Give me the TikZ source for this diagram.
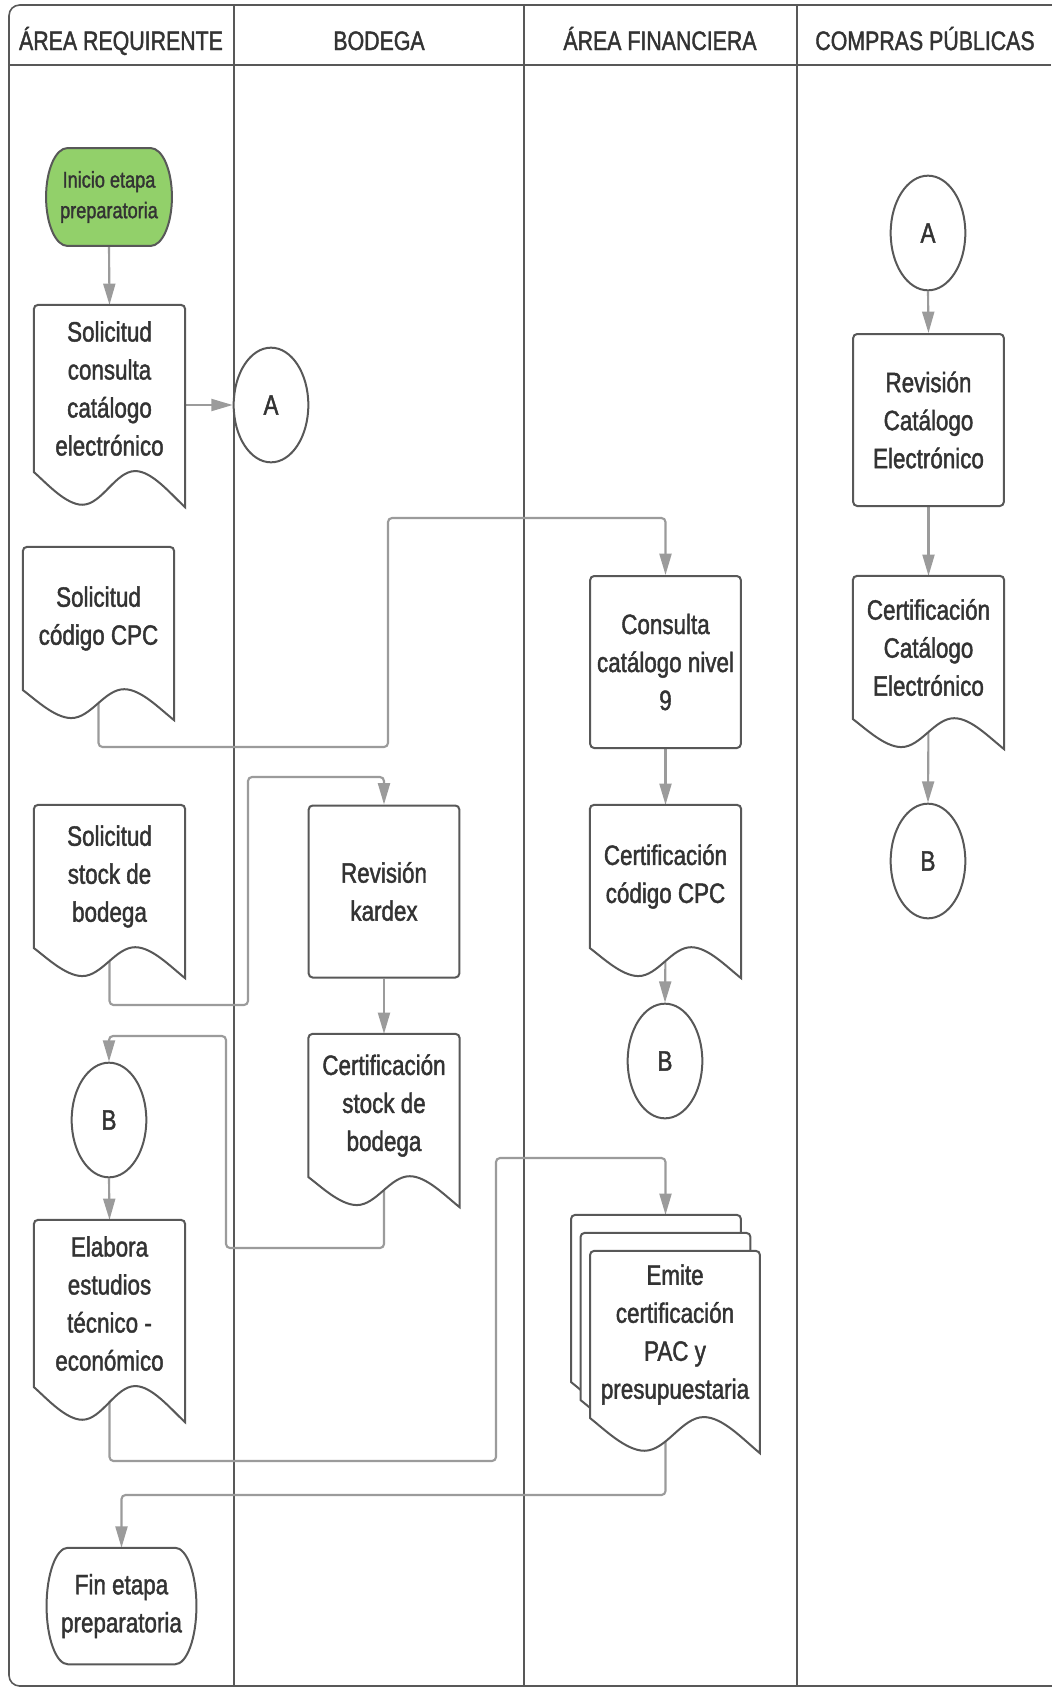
\documentclass[tikz,border=0pt]{standalone}
\usepackage{fontspec}
\setmainfont{Liberation Sans}[FakeStretch=0.8,FakeBold=1.5]
\usetikzlibrary{shapes.geometric,arrows.meta,calc}
\pgfdeclarelayer{fondo}
\pgfdeclarelayer{forma}
\pgfsetlayers{fondo,forma,main}
\definecolor{verde}{RGB}{146,208,106}
\definecolor{gris}{RGB}{88,88,88}
\definecolor{grisf}{RGB}{155,155,155}
\definecolor{gristexto}{RGB}{51,51,51}

% contorno de documento (borde inferior ondulado) alrededor del nodo #1
\newcommand{\documento}[1]{%
\begin{pgfonlayer}{forma}
\draw[borde,fill=white] let \p1=(#1.north west), \p2=(#1.south east),
  \n1={\x2-\x1}, \n2={0.21*(\y1-\y2)} in
  (\x2,{\y2-\n2}) [rounded corners=3pt] -- (\x2,\y1) -- (\x1,\y1) [sharp corners] -- (\x1,\y2)
  .. controls ({\x1+0.08*\n1},{\y2-0.3*\n2}) and ({\x1+0.21*\n1},{\y2-0.93*\n2}) .. ({\x1+0.32*\n1},{\y2-0.93*\n2})
  .. controls ({\x1+0.45*\n1},{\y2-0.93*\n2}) and ({\x1+0.54*\n1},{\y2+0.03*\n2}) .. ({\x1+0.67*\n1},{\y2+0.03*\n2})
  .. controls ({\x1+0.78*\n1},{\y2+0.03*\n2}) and ({\x1+0.9*\n1},{\y2-0.6*\n2}) .. (\x2,{\y2-\n2}) -- cycle;
\end{pgfonlayer}}

% inicio / fin
\newcommand{\terminal}[2][white]{%
\begin{pgfonlayer}{forma}
\draw[borde,fill=#1] let \p1=(#2.north west), \p2=(#2.south east), \n1={0.5*(\y1-\y2)} in
  ({\x1+16pt},\y1) -- ({\x2-16pt},\y1) arc[start angle=90,end angle=-90,x radius=16pt,y radius=\n1]
  -- ({\x1+16pt},\y2) arc[start angle=270,end angle=90,x radius=16pt,y radius=\n1] -- cycle;
\end{pgfonlayer}}

\begin{document}
\begin{tikzpicture}[x=0.75pt,y=-0.75pt]
\tikzset{carril/.style={draw=gris,line width=1.2pt}}
\tikzset{borde/.style={draw=gris,line width=1.5pt}}
\tikzset{flujo/.style={draw=grisf,line width=1.6pt,rounded corners=3pt,-{Triangle[length=16pt,width=9pt]}}}
\tikzset{titulo/.style={text=gristexto,font=\fontsize{20}{24}\selectfont,anchor=base}}
\tikzset{cuerpo/.style={align=center,text=gristexto,inner sep=0pt,font=\fontsize{21}{28.5}\selectfont}}
\tikzset{docu/.style={cuerpo,minimum width=113pt,minimum height=107pt}}
\tikzset{doculargo/.style={cuerpo,minimum width=113pt,minimum height=125pt}}
\tikzset{multidoc/.style={cuerpo,minimum width=127pt,minimum height=125pt}}
\tikzset{proceso/.style={cuerpo,borde,rounded corners=3pt,fill=white,minimum width=113pt,minimum height=129pt}}
\tikzset{conector/.style={cuerpo,ellipse,borde,fill=white,minimum width=56pt,minimum height=86pt}}

\useasboundingbox (0,0) rectangle (1051,1688);
\clip (0,0) rectangle (1051,1688);

% carriles
\foreach \x/\t/\n in {121/ÁREA REQUIRENTE/req, 379/BODEGA/bod, 660/ÁREA FINANCIERA/fin, 925/COMPRAS PÚBLICAS/com}
  \draw (\x,50) node[titulo] (enc-\n) {\t};

% area requirente
\draw (109,197) node[cuerpo,minimum width=94pt,minimum height=73pt,font=\fontsize{17}{23}\selectfont] (inicio) {Inicio etapa\\preparatoria};
\draw (109.5,388.5) node[doculargo] (solcat) {Solicitud\\consulta\\catálogo\\electrónico};
\draw (98.5,618.5) node[docu] (solcpc) {Solicitud\\código CPC};
\draw (109.5,876.5) node[docu] (solstock) {Solicitud\\stock de\\bodega};
\draw (109,1120) node[conector] (b1) {B};
\draw (109.5,1303.5) node[doculargo] (elabora) {Elabora\\estudios\\técnico -\\económico};
\draw (121.5,1606) node[cuerpo,minimum width=112pt,minimum height=87pt] (fin) {Fin etapa\\preparatoria};

% bodega
\draw (271,405) node[conector] (a1) {A};
\draw (384,891.5) node[proceso] (kardex) {Revisión\\kardex};
\draw (384,1105.5) node[docu] (certstock) {Certificación\\stock de\\bodega};

% area financiera
\draw (665.5,662) node[proceso] (consulta) {Consulta\\catálogo nivel\\9};
\draw (665.5,876.5) node[docu] (certcpc) {Certificación\\código CPC};
\draw (665,1061) node[conector] (b2) {B};
\draw (656,1298.5) node[multidoc] (emite3) {};
\draw (665.5,1316.5) node[multidoc] (emite2) {};
\draw (675,1334.5) node[multidoc] (emite) {Emite\\certificación\\PAC y\\presupuestaria};

% compras publicas
\draw (928,233) node[conector] (a2) {A};
\draw (928.5,420) node[proceso] (revcat) {Revisión\\Catálogo\\Electrónico};
\draw (928.5,647.5) node[docu] (certcat) {Certificación\\Catálogo\\Electrónico};
\draw (928,861) node[conector] (b3) {B};

\terminal[verde]{inicio}
\terminal{fin}
\foreach \d in {solcat,solcpc,solstock,elabora,certstock,certcpc,emite3,emite2,emite,certcat}
  \documento{\d};

\begin{pgfonlayer}{fondo}
\draw[carril,rounded corners=8pt] (9,1686) rectangle (1070,5);
\draw[carril] (9,65) -- (1051,65);
\foreach \x in {234,524,797}
  \draw[carril] (\x,5) -- (\x,1686);

\draw[flujo] (inicio.south) -- (solcat.north);
\draw[flujo] (a1 -| solcat.east) -- (a1.west);
\draw[flujo] (solcpc.south) |- (388,747) -- (388,518) -| (consulta.north);
\draw[flujo] (solstock.south) |- (248,1005) -- (248,777) -| (kardex.north);
\draw[flujo] (kardex.south) -- (certstock.north);
\draw[flujo] (certstock.south) |- (226,1248) -- (226,1036) -| (b1.north);
\draw[flujo] (b1.south) -- (elabora.north);
\draw[flujo] (elabora.south) |- (496,1461) -- (496,1158) -| (emite2.north |- emite3.north);
\draw[flujo] (emite2.center |- emite.south) |- (121.5,1495) -- (fin.north);
\draw[flujo] (consulta.south) -- (certcpc.north);
\draw[flujo] (certcpc.south) -- (b2.north);
\draw[flujo] (a2.south) -- (revcat.north);
\draw[flujo] (revcat.south) -- (certcat.north);
\draw[flujo] (certcat.south) -- (b3.north);
\end{pgfonlayer}
\end{tikzpicture}
\end{document}
